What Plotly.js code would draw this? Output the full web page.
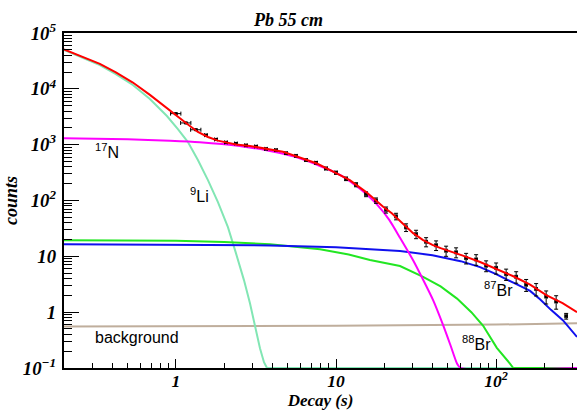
<!DOCTYPE html>
<html>
<head>
<meta charset="utf-8">
<script src="https://cdn.plot.ly/plotly-3.0.1.min.js"></script>
<style>html,body{margin:0;padding:0;background:#fff;}#chart{width:577px;height:410px;}</style>
</head>
<body>
<div id="chart"></div>
<script>
// ---- data ----
const dataX = [1.000,1.155,1.334,1.540,1.778,2.054,2.371,2.738,3.162,3.652,4.217,4.870,5.623,6.494,7.499,8.660,10.00,11.55,13.34,15.40,17.78,20.54,23.71,27.38,31.62,36.52,42.17,48.70,56.23,64.94,74.99,86.60,100.0,115.5,133.4,154.0,177.8,205.4,237.1,273.8];
const dataY = [3600,2450,1850,1480,1240,1100,1050,975,930,840,800,705,630,530,475,375,315,245,192,130,100,68,52,33,25,18.2,15.8,12.6,11.8,9.3,8.8,6.8,6.2,4.8,4.3,3.1,2.6,1.9,1.55,0.85];
const dataYErr = [90,70,55,45,40,38,36,35,34,32,32,30,28,26,25,22,20,18,16,13,11,8.5,7,5.2,4.3,3.4,3.1,2.6,2.4,2.0,1.9,1.5,1.4,1.1,1.0,0.75,0.65,0.5,0.42,0.1];
const dataXErr = [0.074,0.085,0.098,0.03,0.035,0.04,0.045,0.05,0.06,0.07,0.08,0.09,0.1,0.12,0.14,0.16,0.18,0.2,0.24,0.28,0.32,0.37,0.43,0.5,0.57,0.66,0.76,0.88,1.0,1.2,1.35,1.55,1.8,2.1,2.4,2.8,3.2,3.7,4.3,5.0];

const fitX = [0.2,0.2512,0.335,0.4217,0.5385,0.688,0.8786,1.029,1.189,1.372,1.585,1.830,2.113,2.371,2.9,3.7,4.66,6,7.6,9.6,12.2,15.5,19.7,22.3,25.1,27.5,30.3,35,40,45,49.3,62,79.4,100,128,163,207,260,320];
const fitY = [50900,39200,28000,19700,12950,7790,4465,3094,2293,1690,1372,1180,1078,1011,950,850,746,582,460,329,232,140,77,59,43,33,26,19.5,16,14,12.9,10.3,7.9,6.0,4.4,3.1,2.0,1.45,1.0];

const li9X = [0.2,0.2512,0.335,0.4217,0.5385,0.688,0.8786,1.029,1.189,1.372,1.585,1.830,2.113,2.371,2.661,2.901,3.116,3.350,3.548,3.704,320];
const li9Y = [49600,37900,26700,18400,11700,6560,3255,1904,1113,530,232,93.6,33.4,11.4,3.75,1.45,0.585,0.226,0.127,0.1,0.1];

const n17X = [0.2,0.5,0.917,1.41,2.5,3.87,5.5,7.94,10.5,12.8,15.5,18.0,21.5,25.1,30.3,35,40.4,46.6,52,57,60,320];
const n17Y = [1300,1250,1180,1110,950,770,610,415,290,200,130,85,45,21.5,8.5,3.8,1.64,0.59,0.25,0.12,0.1,0.1];

const br88X = [0.2,0.5,1,2,3.87,7.94,12,16.3,25.1,35,45,57,70,83,101,122,128,320];
const br88Y = [19.5,19.3,19.0,18.0,16.5,13.4,10.8,8.6,6.7,4.3,2.9,1.75,1.0,0.57,0.23,0.12,0.1,0.1];

const br87X = [0.2,1,3.87,10,18.8,25.1,40,60,79.4,100,130,163,188,220,261,290,320];
const br87Y = [16.5,16.3,15.7,14.5,13.3,12.4,10.5,8.2,6.4,4.8,3.3,2.4,1.7,1.1,0.72,0.5,0.36];

const bgX = [0.2,10,100,320];
const bgY = [0.555,0.57,0.60,0.63];

const serifBI = {family:'Liberation Serif', size:15, weight:'bold', style:'italic', color:'#000'};
const xTickFont = {family:'Liberation Serif', size:14, weight:'bold', style:'italic', color:'#000'};

function line(x, y, color, shape) {
  return {x:x, y:y, type:'scatter', mode:'lines', hoverinfo:'skip',
          line:{color:color, width:2, shape:shape||'linear', smoothing:0.6}};
}

const traces = [
  line(bgX, bgY, '#bfae9c'),
  line(li9X, li9Y, '#82e6b4'),
  line(br88X, br88Y, '#22e622'),
  line(br87X, br87Y, '#1010ee'),
  line(n17X, n17Y, '#ff00ff', 'spline'),
  {x:dataX, y:dataY, type:'scatter', mode:'markers',
   marker:{color:'#000', size:3, symbol:'square'},
   error_y:{type:'data', array:dataYErr, visible:true, color:'#000', thickness:1, width:2},
   error_x:{type:'data', array:dataXErr, visible:true, color:'#000', thickness:1, width:2}},
  line(fitX, fitY, '#ff0000')
];

const annFont = {family:'Liberation Sans', size:16, color:'#000'};
function ann(text, x, y) {
  return {text:text, x:x, y:y, xref:'paper', yref:'paper', xanchor:'left', yanchor:'middle',
          showarrow:false, font:annFont};
}

const layout = {
  width:577, height:410,
  margin:{l:64, r:0, t:33, b:42},
  paper_bgcolor:'#fff', plot_bgcolor:'#fff',
  showlegend:false,
  title:{text:'Pb 55 cm', x:0.5, xref:'container', xanchor:'center', y:0.952, yref:'container', yanchor:'middle',
         font:{family:'Liberation Serif', size:18, weight:'bold', style:'italic', color:'#000'}},
  xaxis:{type:'log', range:[Math.log10(0.2), Math.log10(320)], dtick:1, exponentformat:'power',
         showgrid:false, zeroline:false, showline:true, linecolor:'#000', linewidth:2, mirror:true,
         ticks:'inside', ticklen:9, tickwidth:1, tickcolor:'#000', ticklabelstandoff:-3,
         minor:{ticks:'inside', ticklen:5, tickwidth:1, tickcolor:'#000', dtick:'D1', showgrid:false},
         tickfont:xTickFont,
         title:{text:'Decay (s)', standoff:13, font:{family:'Liberation Serif', size:17, weight:'bold', style:'italic', color:'#000'}}},
  yaxis:{type:'log', range:[-1, 5], dtick:1, exponentformat:'power',
         showgrid:false, zeroline:false, showline:true, linecolor:'#000', linewidth:2, mirror:false,
         ticks:'inside', ticklen:15, tickwidth:1, tickcolor:'#000', ticklabelstandoff:3,
         minor:{ticks:'inside', ticklen:8, tickwidth:1, tickcolor:'#000', dtick:'D1', showgrid:false},
         tickfont:serifBI,
         title:{text:'counts', standoff:0, font:{family:'Liberation Serif', size:18, weight:'bold', style:'italic', color:'#000'}}},
  annotations:[
    ann('<sup>17</sup>N', 0.0565, 0.648),
    ann('<sup>9</sup>Li', 0.2417, 0.516),
    ann('background', 0.0565, 0.0896),
    ann('<sup>87</sup>Br', 0.8148, 0.236),
    ann('<sup>88</sup>Br', 0.772, 0.0746)
  ]
};

Plotly.newPlot('chart', traces, layout, {staticPlot:true, displayModeBar:false});
</script>
</body>
</html>
